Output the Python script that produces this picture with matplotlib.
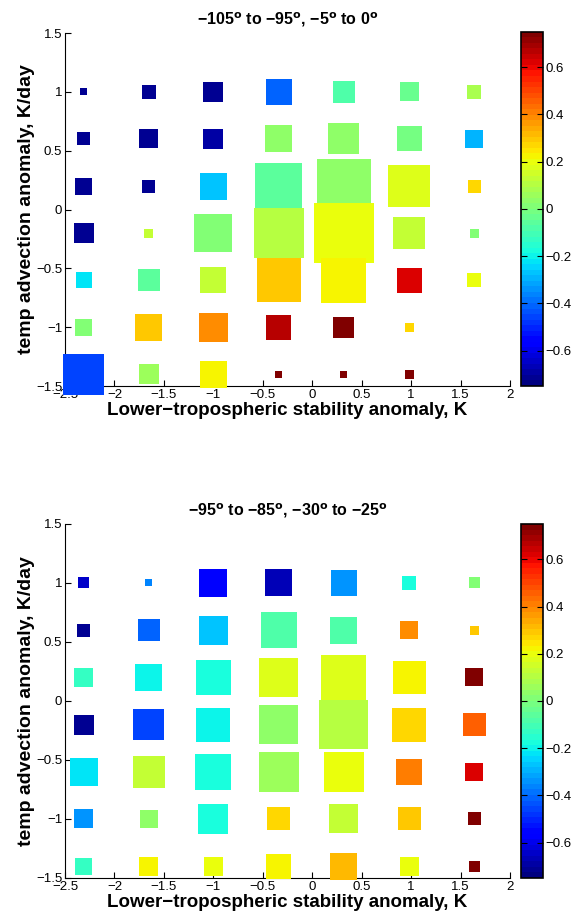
import numpy as np
import matplotlib.pyplot as plt
import matplotlib as mpl

plt.rcParams['font.family'] = ['Liberation Sans', 'DejaVu Sans']

# bin centres
x_bins = [-2.31, -1.655, -1.0, -0.34, 0.32, 0.98, 1.64]
y_bins = [1.0, 0.6, 0.2, -0.2, -0.6, -1.0, -1.4]

nan = np.nan

# panel 1: -105 to -95, -5 to 0
title1 = '\u2212105$^{\\mathbf{o}}$ to \u221295$^{\\mathbf{o}}$, \u22125$^{\\mathbf{o}}$ to 0$^{\\mathbf{o}}$'
side1 = [[7, 14, 20, 26, 22, 19, 14],
         [13, 19, 20, 27, 31, 25, 18],
         [17, 13, 27, 47, 54, 42, 13],
         [20, 9, 38, 50, 60, 32, 9],
         [16, 22, 26, 44, 45, 25, 14],
         [17, 27, 29, 25, 21, 9, nan],
         [41, 20, 27, 7, 7, 9, nan]]
val1 = [[-0.72, -0.72, -0.72, -0.42, -0.09, -0.04, 0.09],
        [-0.72, -0.72, -0.69, 0.04, 0.04, -0.02, -0.30],
        [-0.72, -0.72, -0.26, -0.07, 0.04, 0.165, 0.28],
        [-0.72, 0.12, 0.0, 0.095, 0.19, 0.14, 0.02],
        [-0.23, -0.06, 0.12, 0.30, 0.225, 0.63, 0.19],
        [0.02, 0.30, 0.375, 0.66, 0.75, 0.28, nan],
        [-0.45, 0.07, 0.23, 0.75, 0.75, 0.75, nan]]

# panel 2: -95 to -85, -30 to -25
title2 = '\u221295$^{\\mathbf{o}}$ to \u221285$^{\\mathbf{o}}$, \u221230$^{\\mathbf{o}}$ to \u221225$^{\\mathbf{o}}$'
side2 = [[11, 7, 28, 27, 26, 14, 11],
         [13, 22, 29, 36, 27, 18, 9],
         [19, 27, 35, 39, 45, 33, 18],
         [20, 31, 34, 39, 49, 34, 23],
         [28, 32, 36, 40, 40, 26, 18],
         [19, 18, 30, 23, 29, 23, 13],
         [17, 19, 19, 25, 27, 19, 11]]
val2 = [[-0.65, -0.375, -0.58, -0.66, -0.33, -0.165, 0.02],
        [-0.72, -0.42, -0.28, -0.09, -0.09, 0.375, 0.30],
        [-0.12, -0.19, -0.165, 0.165, 0.165, 0.23, 0.75],
        [-0.72, -0.45, -0.19, 0.04, 0.095, 0.28, 0.45],
        [-0.23, 0.12, -0.165, 0.07, 0.21, 0.42, 0.63],
        [-0.33, 0.04, -0.165, 0.28, 0.14, 0.30, 0.75],
        [-0.12, 0.23, 0.19, 0.22, 0.32, 0.21, 0.75]]

panels = [(title1, side1, val1), (title2, side2, val2)]

my_dpi = 100
fig = plt.figure(figsize=(577/my_dpi, 918/my_dpi), dpi=my_dpi)
cmap = plt.get_cmap('jet', 64)
norm = mpl.colors.Normalize(vmin=-0.75, vmax=0.75)

ax_pos = [[0.1127, 0.5795, 0.7712, 0.3845], [0.1127, 0.0436, 0.7712, 0.3856]]
cb_pos = [[0.903, 0.5795, 0.038, 0.3860], [0.903, 0.0436, 0.038, 0.3856]]

for i, (ttl, side, val) in enumerate(panels):
    ax = fig.add_axes(ax_pos[i])
    xx, yy = np.meshgrid(x_bins, y_bins)
    side = np.array(side, dtype=float)
    val = np.array(val, dtype=float)
    ok = ~np.isnan(side)
    # side is in pixels -> points
    s = (side[ok] * 72.0 / my_dpi) ** 2
    ax.scatter(xx[ok], yy[ok], s=s, c=val[ok], cmap=cmap, norm=norm, marker='s',
               linewidths=0, clip_on=False, zorder=3)
    ax.set_xlim(-2.5, 2)
    ax.set_ylim(-1.5, 1.5)
    ax.set_xticks(np.arange(-2.5, 2.01, 0.5))
    ax.set_yticks(np.arange(-1.5, 1.51, 0.5))
    ax.set_xticklabels(['\u22122.5', '\u22122', '\u22121.5', '\u22121', '\u22120.5', '0', '0.5', '1', '1.5', '2'])
    ax.set_yticklabels(['\u22121.5', '\u22121', '\u22120.5', '0', '0.5', '1', '1.5'])
    ax.spines['top'].set_visible(False)
    ax.spines['right'].set_visible(False)
    ax.tick_params(direction='in', length=4, labelsize=9.5, pad=2)
    ax.set_title(ttl, fontsize=11.5, fontweight='bold', pad=6)
    ax.set_xlabel('Lower\u2212tropospheric stability anomaly, K', fontsize=13.5, fontweight='bold', labelpad=1)
    ax.set_ylabel('temp advection anomaly, K/day', fontsize=14, fontweight='bold', labelpad=1)

    cax = fig.add_axes(cb_pos[i])
    cb = mpl.colorbar.ColorbarBase(cax, cmap=cmap, norm=norm)
    cb.set_ticks([-0.6, -0.4, -0.2, 0, 0.2, 0.4, 0.6])
    cb.set_ticklabels(['\u22120.6', '\u22120.4', '\u22120.2', '0', '0.2', '0.4', '0.6'])
    cax.tick_params(direction='in', length=4, labelsize=9.5, left=True, right=True, pad=2)
    cb.outline.set_linewidth(1.2)

plt.savefig('out.png', dpi=my_dpi)
